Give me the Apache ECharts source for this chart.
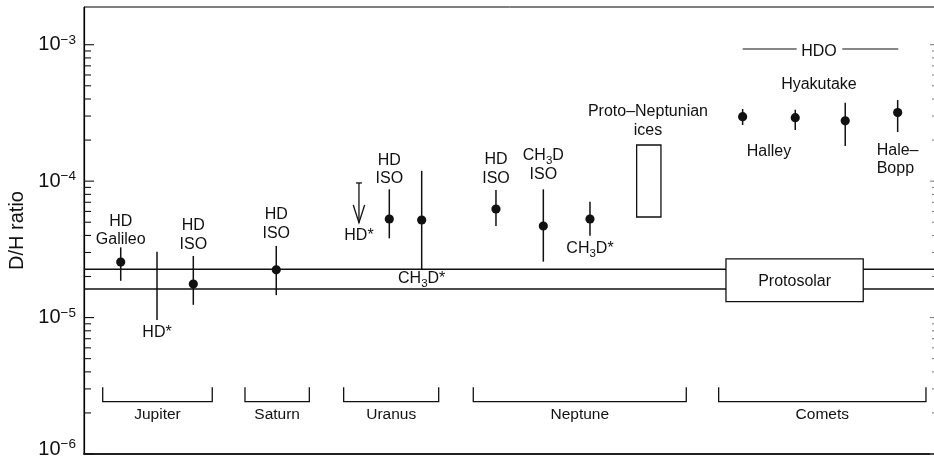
<!DOCTYPE html>
<html>
<head>
<meta charset="utf-8">
<script src="https://cdn.jsdelivr.net/npm/echarts@6/dist/echarts.min.js"></script>
<style>
  html, body { margin: 0; padding: 0; background: #fff; }
  #chart { width: 934px; height: 457px; }
</style>
</head>
<body>
<div id="chart"></div>
<script>
// D/H ratios measured in the giant planets and in comets, on a log scale.
const FONT = '"Liberation Sans", Arial, Helvetica, sans-serif';
const INK = '#111';

// Horizontal axis is a schematic slot position (0–100); vertical axis is D/H.
const X_MAX = 100.24;
const Y_MIN = 1e-6;
const Y_MAX = 1.89e-3;

// Measurements with error bars
const measX   = [4.32, 12.86, 22.62, 35.92, 39.73, 48.47, 54.04, 59.53, 77.49, 83.68, 89.56, 95.73];
const measVal = [2.55e-5, 1.76e-5, 2.24e-5, 5.28e-5, 5.19e-5, 6.25e-5, 4.69e-5, 5.28e-5, 2.97e-4, 2.92e-4, 2.77e-4, 3.18e-4];
const measLo  = [1.86e-5, 1.24e-5, 1.46e-5, 3.81e-5, 2.26e-5, 4.69e-5, 2.57e-5, 3.98e-5, 2.58e-4, 2.37e-4, 1.81e-4, 2.29e-4];
const measHi  = [3.27e-5, 2.83e-5, 3.35e-5, 8.71e-5, 1.19e-4, 8.61e-5, 8.71e-5, 7.07e-5, 3.38e-4, 3.33e-4, 3.76e-4, 3.93e-4];
const measLabel = ['HD\nGalileo', 'HD\nISO', 'HD\nISO', 'HD\nISO', 'CH3D*', 'HD\nISO', 'CH3D\nISO', 'CH3D*', '', '', '', ''];

// Label placement next to each error bar (side, gap in px)
const measLabelSide = ['top', 'top', 'top', 'top', 'bottom', 'top', 'top', 'bottom', '', '', '', ''];
const measLabelGap  = [0, 4, 5, 2.5, -1, 4, 7, 2.5, 0, 0, 0, 0];

// Range without a central value (Jupiter HD*)
const rangeX = [8.59];
const rangeLo = [9.6e-6];
const rangeHi = [3.04e-5];
const rangeLabel = ['HD*'];

// Upper limit (Uranus HD*)
const limitX = [32.35];
const limitVal = [9.7e-5];
const limitTip = [4.96e-5];
const limitLabel = ['HD*'];

// Protosolar value: band limits and the labelled box
const protoBand = [1.62e-5, 2.26e-5];
const protoBoxX = [75.53, 91.68];
const protoBoxY = [1.31e-5, 2.69e-5];
const protoLabel = 'Protosolar';

// Proto-Neptunian ices range
const iceBoxX = [65.02, 67.88];
const iceBoxY = [5.46e-5, 1.84e-4];

// Object groups along the bottom
const groupNames = ['Jupiter', 'Saturn', 'Uranus', 'Neptune', 'Comets'];
const groupFrom  = [2.2, 18.94, 30.55, 45.8, 74.67];
const groupTo    = [15.09, 26.51, 41.73, 70.86, 99.06];
const bracketLow = 2.42e-6;
const bracketHigh = 3.08e-6;
const groupLabelY = 1.99e-6;

// Free annotations
const noteText = ['HDO', 'Hyakutake', 'Halley', 'Hale–\nBopp', 'Proto–Neptunian\nices'];
const noteX    = [86.47, 86.47, 80.59, 93.26, 66.35];
const noteY    = [9.15e-4, 5.24e-4, 1.69e-4, 1.47e-4, 2.83e-4];
const noteAlign = ['center', 'center', 'center', 'left', 'center'];
const hdoFrom = [77.49, 89.21];
const hdoTo   = [83.85, 95.8];
const hdoY = 9.3e-4;

const RICH = {
  sub: { fontSize: 11.5, fontFamily: FONT, fill: INK, lineHeight: 18.5, padding: [10, 0, 0, 0] }
};

// Glyphs sit slightly high in their line box; nudge every annotation down a touch
const TEXT_NUDGE = 1.5;

function markup(s) {
  return s.replace(/CH3D/g, 'CH{sub|3}D');
}

function txt(x, y, text, align, vAlign, size) {
  return {
    type: 'text', x: x, y: y + TEXT_NUDGE,
    style: {
      text: markup(text), align: align, verticalAlign: vAlign,
      fontFamily: FONT, fontSize: size || 16, fill: INK, lineHeight: 18.5, rich: RICH
    }
  };
}

function seg(a, b, w, color) {
  return { type: 'line', shape: { x1: a[0], y1: a[1], x2: b[0], y2: b[1] }, style: { stroke: color || INK, lineWidth: w || 1.3 } };
}

function custom(data, renderItem, z) {
  return {
    type: 'custom', coordinateSystem: 'cartesian2d', data: data, renderItem: renderItem,
    encode: { x: 0, y: 1 }, clip: false, silent: true, animation: false, z: z || 3
  };
}

// Log ticks 1..9 per decade, on both sides of the frame
const tickData = [];
for (let d = -6; d <= -3; d++) {
  for (let k = 1; k <= 9; k++) {
    const v = k * Math.pow(10, d);
    if (v <= Y_MAX) tickData.push([0, v, k === 1 ? 1 : 0]);
  }
}

function renderTick(params, api) {
  const v = api.value(1);
  const major = api.value(2) === 1;
  const l = api.coord([0, v]);
  const r = api.coord([X_MAX, v]);
  return {
    type: 'group', children: [
      seg(l, [l[0] + (major ? 10 : 7), l[1]], 1.1),
      seg(r, [r[0] - (major ? 6 : 4), r[1]], 1, '#777')
    ]
  };
}

function renderMeasurement(params, api) {
  const i = params.dataIndex;
  const x = api.value(0);
  const c = api.coord([x, api.value(1)]);
  const lo = api.coord([x, api.value(2)]);
  const hi = api.coord([x, api.value(3)]);
  const children = [
    seg(lo, hi, 1.5),
    { type: 'circle', shape: { cx: c[0], cy: c[1], r: 4.6 }, style: { fill: INK } }
  ];
  if (measLabel[i]) {
    const g = measLabelGap[i];
    if (measLabelSide[i] === 'top') children.push(txt(hi[0], hi[1] - g, measLabel[i], 'center', 'bottom'));
    else children.push(txt(lo[0], lo[1] + g, measLabel[i], 'center', 'top'));
  }
  return { type: 'group', children: children };
}

function renderRange(params, api) {
  const i = params.dataIndex;
  const x = api.value(0);
  const lo = api.coord([x, api.value(1)]);
  const hi = api.coord([x, api.value(2)]);
  return { type: 'group', children: [seg(lo, hi, 1.5), txt(lo[0], lo[1] + 1.5, rangeLabel[i], 'center', 'top')] };
}

function renderLimit(params, api) {
  const i = params.dataIndex;
  const x = api.value(0);
  const top = api.coord([x, api.value(1)]);
  const tip = api.coord([x, api.value(2)]);
  return {
    type: 'group', children: [
      seg([top[0] - 3, top[1]], [top[0] + 3, top[1]], 1.3),
      seg(top, tip, 1.3),
      { type: 'polyline', shape: { points: [[tip[0] - 5.7, tip[1] - 17.7], tip, [tip[0] + 5.7, tip[1] - 17.7]] },
        style: { stroke: INK, lineWidth: 1.3, fill: null } },
      txt(tip[0], tip[1] + 2, limitLabel[i], 'center', 'top')
    ]
  };
}

function renderBand(params, api) {
  const v = api.value(1);
  return seg(api.coord([0, v]), api.coord([X_MAX, v]), 1.3);
}

function renderBox(labelText) {
  return function (params, api) {
    const a = api.coord([api.value(0), api.value(1)]);
    const b = api.coord([api.value(2), api.value(3)]);
    const children = [{
      type: 'rect',
      shape: { x: Math.min(a[0], b[0]), y: Math.min(a[1], b[1]), width: Math.abs(b[0] - a[0]), height: Math.abs(b[1] - a[1]) },
      style: { fill: labelText ? '#fff' : null, stroke: INK, lineWidth: 1.3 }
    }];
    if (labelText) children.push(txt((a[0] + b[0]) / 2, (a[1] + b[1]) / 2, labelText, 'center', 'middle'));
    return { type: 'group', children: children };
  };
}

function renderGroup(params, api) {
  const i = params.dataIndex;
  const x0 = api.value(0), x1 = api.value(2);
  const p0 = api.coord([x0, bracketHigh]);
  const p1 = api.coord([x0, bracketLow]);
  const p2 = api.coord([x1, bracketLow]);
  const p3 = api.coord([x1, bracketHigh]);
  const lab = api.coord([(x0 + x1) / 2, groupLabelY]);
  return {
    type: 'group', children: [
      { type: 'polyline', shape: { points: [p0, p1, p2, p3] }, style: { stroke: INK, lineWidth: 1.3, fill: null } },
      txt(lab[0], lab[1], groupNames[i], 'center', 'middle', 15.5)
    ]
  };
}

function renderNote(params, api) {
  const i = params.dataIndex;
  const p = api.coord([api.value(0), api.value(1)]);
  return txt(p[0], p[1], noteText[i], noteAlign[i], 'middle');
}

function renderHdoLine(params, api) {
  return seg(api.coord([api.value(0), hdoY]), api.coord([api.value(2), hdoY]), 1.2);
}

const chart = echarts.init(document.getElementById('chart'), null, { renderer: 'canvas' });

chart.setOption({
  animation: false,
  backgroundColor: '#fff',
  grid: {
    left: 84, top: 7, right: -2, bottom: 3,
    containLabel: false, outerBoundsMode: 'none',
    show: true, borderColor: '#000', borderWidth: 1, backgroundColor: 'transparent'
  },
  xAxis: {
    type: 'value', min: 0, max: X_MAX,
    axisLine: { show: true, onZero: false, lineStyle: { color: '#222', width: 2 } },
    axisTick: { show: false }, axisLabel: { show: false }, splitLine: { show: false }
  },
  yAxis: {
    type: 'log', logBase: 10, min: Y_MIN, max: Y_MAX,
    axisLine: { show: true, lineStyle: { color: '#000', width: 1.2 } },
    axisTick: { show: false }, splitLine: { show: false }, minorTick: { show: false },
    name: 'D/H ratio', nameLocation: 'middle', nameRotate: 90, nameGap: 56,
    nameTextStyle: { fontFamily: FONT, fontSize: 20, color: INK },
    axisLabel: {
      margin: 8,
      formatter: function (v) {
        const lg = Math.log10(v);
        const e = Math.round(lg);
        if (Math.abs(lg - e) > 1e-6) return '';
        if (e === -6) return '{b6|10}{s6|−6}';
        return '{b|10}{s|−' + (-e) + '}';
      },
      rich: {
        b:  { fontFamily: FONT, fontSize: 20, color: INK, lineHeight: 22 },
        s:  { fontFamily: FONT, fontSize: 13.5, color: INK, lineHeight: 22, padding: [0, 0, 9, 0] },
        b6: { fontFamily: FONT, fontSize: 20, color: INK, lineHeight: 22, padding: [0, 0, 10, 0] },
        s6: { fontFamily: FONT, fontSize: 13.5, color: INK, lineHeight: 22, padding: [0, 0, 19, 0] }
      }
    }
  },
  series: [
    custom(tickData, renderTick, 4),
    custom(protoBand.map(function (v) { return [0, v]; }), renderBand, 2),
    custom([[protoBoxX[0], protoBoxY[0], protoBoxX[1], protoBoxY[1]]], renderBox(protoLabel), 3),
    custom([[iceBoxX[0], iceBoxY[0], iceBoxX[1], iceBoxY[1]]], renderBox(''), 3),
    custom(measX.map(function (x, i) { return [x, measVal[i], measLo[i], measHi[i]]; }), renderMeasurement, 4),
    custom(rangeX.map(function (x, i) { return [x, rangeLo[i], rangeHi[i]]; }), renderRange, 4),
    custom(limitX.map(function (x, i) { return [x, limitVal[i], limitTip[i]]; }), renderLimit, 4),
    custom(groupFrom.map(function (x, i) { return [x, bracketLow, groupTo[i]]; }), renderGroup, 4),
    custom(noteX.map(function (x, i) { return [x, noteY[i]]; }), renderNote, 4),
    custom(hdoFrom.map(function (x, i) { return [x, hdoY, hdoTo[i]]; }), renderHdoLine, 4)
  ]
});
</script>
</body>
</html>
